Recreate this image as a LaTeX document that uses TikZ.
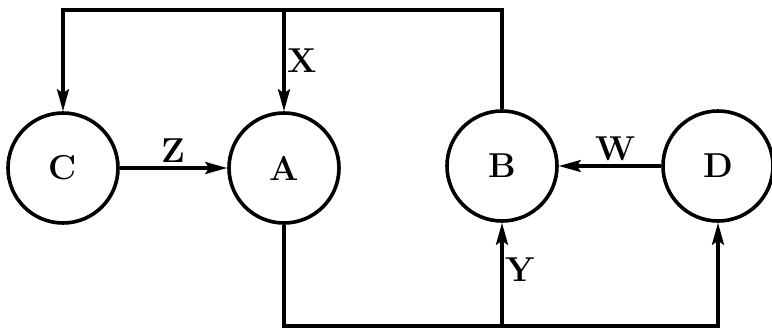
\documentclass[tikz,border=0pt]{standalone}
\usepackage{tikz}
\usetikzlibrary{arrows.meta,positioning}

\begin{document}
\begin{tikzpicture}[x=0.5pt, y=-0.5pt, line width=1.6pt,
  blob/.style={circle,draw,line width=1.8pt,minimum size=55pt,inner sep=0pt,font=\LARGE\bfseries},
  flow/.style={-{Stealth[length=11pt,width=6pt,inset=2pt]}},
  lbl/.style={font=\LARGE\bfseries,inner sep=2pt}]

% ---- frame -----------------------------------------------------------------
\useasboundingbox (0,0) rectangle (772,333);

% ---- blocks ----------------------------------------------------------------
\node[blob] (C) at (63,168)  {C};
\node[blob] (A) at (284,168) {A};
\node[blob] (B) at (502,166) {B};
\node[blob] (D) at (718,166) {D};

\coordinate (top) at (0,10);
\coordinate (bot) at (0,326);

% ---- feedback over the top -------------------------------------------------
\draw[flow] (B.north) -- (B.north |- top) -- (C.north |- top) -- (C.north);
\draw[flow] (A.north |- top) -- node[lbl,right,pos=0.5,xshift=-1pt] {X} (A.north);

% ---- direct links ----------------------------------------------------------
\draw[flow] (C) -- node[lbl,above,pos=0.5] {Z} (A);
\draw[flow] (D) -- node[lbl,above,pos=0.45] {W} (B);

% ---- return along the bottom -----------------------------------------------
\draw[flow] (A.south) -- (A.south |- bot) -- (D.south |- bot) -- (D.south);
\draw[flow] (B.south |- bot) -- node[lbl,right,pos=0.55,xshift=-1pt] {Y} (B.south);

\end{tikzpicture}
\end{document}
